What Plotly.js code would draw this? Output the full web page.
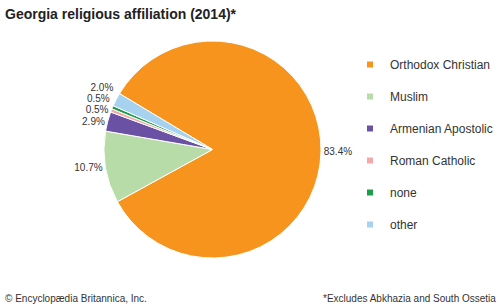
<!DOCTYPE html>
<html>
<head>
<meta charset="utf-8">
<script src="https://cdn.plot.ly/plotly-3.0.1.min.js"></script>
<style>
html,body{margin:0;padding:0;background:#fff;}
#chart{width:501px;height:306px;}
#chart path.textline{display:none !important;}
</style>
</head>
<body>
<div id="chart"></div>
<script>
var categories = ["Orthodox Christian", "Muslim", "Armenian Apostolic", "Roman Catholic", "none", "other"];
var shares = [83.4, 10.7, 2.9, 0.5, 0.5, 2.0];
var colors = ["#f7941d", "#b7dca8", "#6a51a3", "#f4a9a8", "#1a9e48", "#a6d1ef"];
var titleText = "Georgia religious affiliation (2014)*";
var creditText = "© Encyclopædia Britannica, Inc.";
var noteText = "*Excludes Abkhazia and South Ossetia";

var FONT = "Liberation Sans, Arial, sans-serif";

var traces = [{
  type: "pie",
  labels: categories,
  values: shares,
  sort: false,
  direction: "clockwise",
  rotation: -59,
  marker: {colors: colors, line: {color: "#ffffff", width: 1}},
  textposition: "outside",
  texttemplate: "%{value:.1f}%",
  textfont: {family: FONT, size: 10, color: "#333333"},
  hoverinfo: "label+percent",
  showlegend: false,
  domain: {x: [104/501, 321/501], y: [48/306, 265/306]}
}];

categories.forEach(function (c, i) {
  traces.push({
    type: "scatter",
    mode: "markers",
    x: [null], y: [null],
    name: c,
    legendgroup: "g" + i,
    marker: {symbol: "square", size: 6, color: colors[i]},
    hoverinfo: "skip"
  });
});

var layout = {
  width: 501, height: 306,
  margin: {l: 0, r: 0, t: 0, b: 0},
  paper_bgcolor: "#ffffff",
  plot_bgcolor: "#ffffff",
  font: {family: FONT, color: "#333333"},
  title: {
    text: "<b>" + titleText + "</b>",
    font: {family: FONT, size: 14, color: "#222222"},
    x: 5/501, xanchor: "left", xref: "container",
    y: 1 - 14/306, yanchor: "middle", yref: "container"
  },
  xaxis: {visible: false},
  yaxis: {visible: false},
  showlegend: true,
  legend: {
    x: 350/501, xanchor: "left",
    y: 1 - 50/306, yanchor: "top",
    font: {family: FONT, size: 12, color: "#333333"},
    tracegroupgap: 13,
    bgcolor: "rgba(0,0,0,0)"
  },
  annotations: [
    {text: creditText, xref: "paper", yref: "paper", x: 3/501, y: 1 - 298/306,
     xanchor: "left", yanchor: "middle", showarrow: false,
     font: {family: FONT, size: 10, color: "#333333"}},
    {text: noteText, xref: "paper", yref: "paper", x: 498/501, y: 1 - 298/306,
     xanchor: "right", yanchor: "middle", showarrow: false,
     font: {family: FONT, size: 10, color: "#333333"}}
  ]
};

Plotly.newPlot("chart", traces, layout, {displayModeBar: false, staticPlot: true});
</script>
</body>
</html>
